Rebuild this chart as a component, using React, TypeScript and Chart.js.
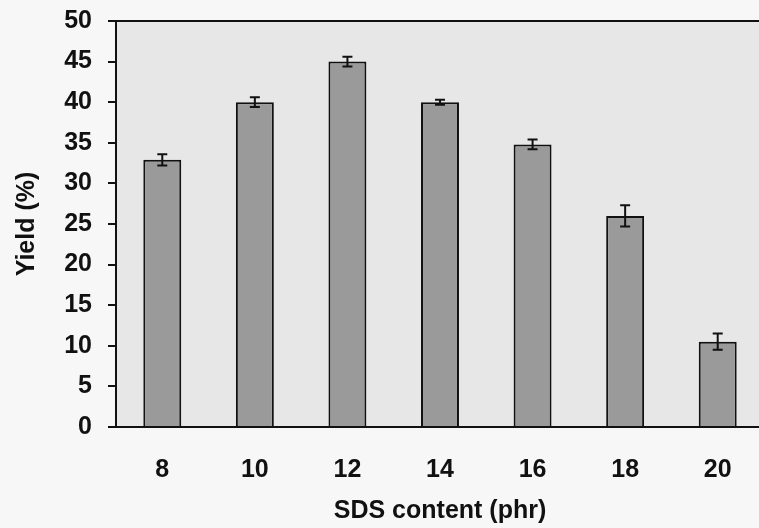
import React, { useEffect, useRef } from "react";
import { Chart, registerables } from "chart.js";

Chart.register(...registerables);

const categories: string[] = ["8", "10", "12", "14", "16", "18", "20"];
const yieldValues: number[] = [32.9, 40.0, 45.0, 40.0, 34.8, 26.0, 10.5];
const yieldErrors: number[] = [0.7, 0.6, 0.6, 0.3, 0.6, 1.3, 1.0];
const yTickMin = 0;
const yTickMax = 50;
const yTickStep = 5;

const FONT = "'Liberation Sans', Arial, Helvetica, sans-serif";

const plotBackground = {
  id: "plotBackground",
  beforeDraw(chart: any) {
    const { ctx, chartArea } = chart;
    ctx.save();
    ctx.fillStyle = "#e7e7e7";
    ctx.fillRect(chartArea.left, chartArea.top, chartArea.right - chartArea.left, chartArea.bottom - chartArea.top);
    ctx.strokeStyle = "#111";
    ctx.lineWidth = 2;
    ctx.beginPath();
    ctx.moveTo(chartArea.left, chartArea.top);
    ctx.lineTo(chartArea.right, chartArea.top);
    ctx.stroke();
    ctx.restore();
  },
};

const errorBars = {
  id: "errorBars",
  afterDatasetsDraw(chart: any) {
    const { ctx } = chart;
    const meta = chart.getDatasetMeta(0);
    const y = chart.scales.y;
    ctx.save();
    ctx.strokeStyle = "#111";
    ctx.lineWidth = 2;
    meta.data.forEach((bar: any, i: number) => {
      const v = yieldValues[i];
      const e = yieldErrors[i];
      const x = bar.x;
      const yt = y.getPixelForValue(v + e);
      const yb = y.getPixelForValue(v - e);
      const cap = 5;
      ctx.beginPath();
      ctx.moveTo(x, yt);
      ctx.lineTo(x, yb);
      ctx.moveTo(x - cap, yt);
      ctx.lineTo(x + cap, yt);
      ctx.moveTo(x - cap, yb);
      ctx.lineTo(x + cap, yb);
      ctx.stroke();
    });
    ctx.restore();
  },
};

export default function App() {
  const canvasRef = useRef<HTMLCanvasElement | null>(null);

  useEffect(() => {
    if (!canvasRef.current) return;
    const chart = new Chart(canvasRef.current, {
      type: "bar",
      data: {
        labels: categories,
        datasets: [
          {
            data: yieldValues,
            backgroundColor: "#9a9a9a",
            borderColor: "#111",
            borderWidth: 2,
            barPercentage: 0.41,
            categoryPercentage: 1,
          },
        ],
      },
      options: {
        responsive: false,
        animation: false,
        devicePixelRatio: 1,
        layout: { padding: { top: 21, right: 0, bottom: 0, left: 0 } },
        plugins: {
          legend: { display: false },
          tooltip: { enabled: false },
        },
        scales: {
          x: {
            grid: { display: false },
            border: { display: true, color: "#111", width: 2 },
            ticks: {
              color: "#111",
              padding: 20,
              font: { family: FONT, size: 25, weight: "bold" },
            },
            title: {
              display: true,
              text: "SDS content (phr)",
              color: "#111",
              padding: { top: 0, bottom: 2 },
              font: { family: FONT, size: 25, weight: "bold" },
            },
            afterFit: (scale: any) => {
              scale.height = 101;
            },
          },
          y: {
            min: yTickMin,
            max: yTickMax,
            grid: {
              drawOnChartArea: false,
              drawTicks: true,
              tickLength: 8,
              color: "#111",
              lineWidth: 2,
            },
            border: { display: true, color: "#111", width: 2 },
            ticks: {
              stepSize: yTickStep,
              color: "#111",
              padding: 16,
              font: { family: FONT, size: 25, weight: "bold" },
            },
            title: {
              display: true,
              text: "Yield (%)",
              color: "#111",
              padding: { top: 12, bottom: 0 },
              font: { family: FONT, size: 25, weight: "bold" },
            },
            afterFit: (scale: any) => {
              scale.width = 116;
              scale.paddingTop = 0;
              scale.paddingBottom = 0;
            },
          },
        },
      },
      plugins: [plotBackground, errorBars],
    });
    return () => chart.destroy();
  }, []);

  return (
    <div
      style={{
        position: "fixed",
        left: 0,
        top: 0,
        width: 759,
        height: 528,
        overflow: "hidden",
        background: "#f7f7f7",
      }}
    >
      <canvas ref={canvasRef} width={764} height={528} style={{ display: "block" }} />
    </div>
  );
}
